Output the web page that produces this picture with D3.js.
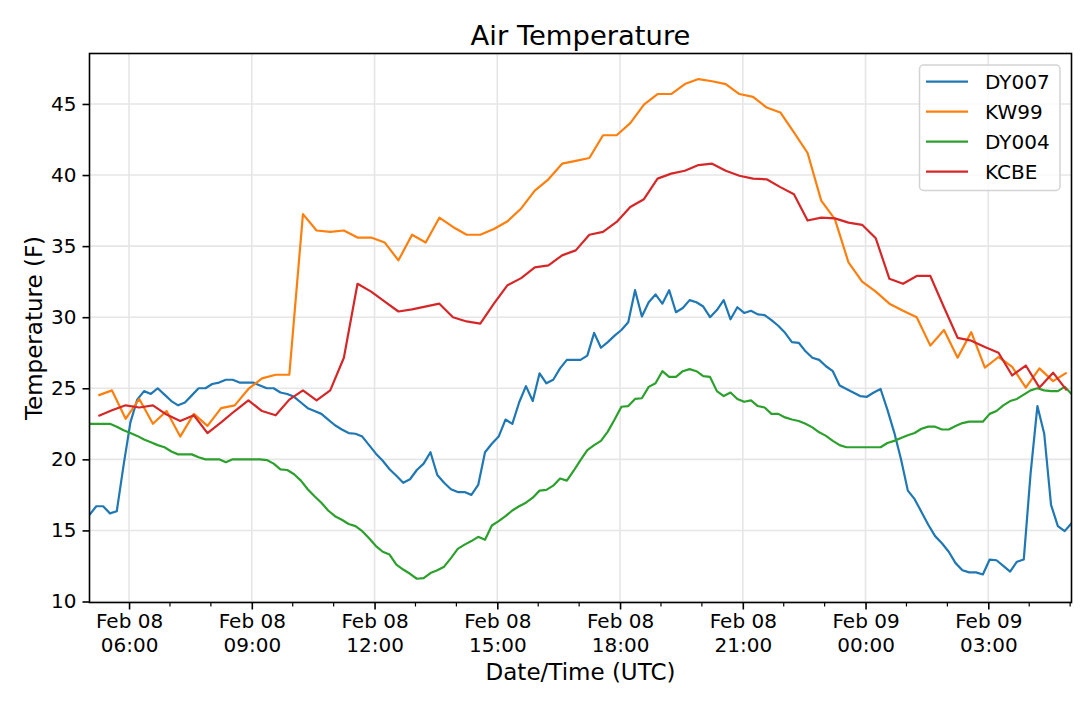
<!DOCTYPE html>
<html>
<head>
	<meta charset="utf-8">
	<title>Air Temperature</title>
	<style>
		body { margin: 0; background: #fff; }
		text { font-family: "DejaVu Sans", sans-serif; fill: #000; }
	</style>
</head>
<body>
<script src="https://d3js.org/d3.v7.min.js"></script>
<script>
//-------------data-------------------
// mesonet stations report every 10 min, airports every 20 min
var dyStart = "2021-02-08T05:02:00Z";
var dyStepMin = 10;
var metarStart = "2021-02-08T05:15:00Z";
var metarStepMin = 20;

var dy007 = [16.1, 16.7, 16.7, 16.2, 16.35, 19.6, 22.6, 24.2, 24.8, 24.6,
	25.0, 24.55, 24.1, 23.8, 24.0, 24.5, 25.0, 25.0, 25.3, 25.4,
	25.6, 25.6, 25.4, 25.4, 25.4, 25.2, 25.0, 25.0, 24.7, 24.6,
	24.4, 24.0, 23.6, 23.4, 23.2, 22.8, 22.4, 22.1, 21.85, 21.8,
	21.6, 21.0, 20.4, 19.9, 19.3, 18.85, 18.35, 18.6, 19.25, 19.7,
	20.5, 18.9, 18.35, 17.9, 17.7, 17.7, 17.5, 18.2, 20.5, 21.1,
	21.6, 22.8, 22.5, 24.0, 25.15, 24.1, 26.05, 25.35, 25.6, 26.4,
	27.0, 27.0, 27.0, 27.3, 28.9, 27.85, 28.25, 28.7, 29.1, 29.65,
	31.9, 30.05, 31.05, 31.6, 30.95, 31.9, 30.35, 30.65, 31.2, 31.05,
	30.75, 30.0, 30.5, 31.2, 29.85, 30.7, 30.3, 30.45, 30.2, 30.15,
	29.8, 29.4, 28.9, 28.25, 28.2, 27.6, 27.15, 27.0, 26.55, 26.2,
	25.2, 24.95, 24.7, 24.45, 24.4, 24.7, 24.95, 23.5, 21.9, 20.0,
	17.8, 17.2, 16.3, 15.4, 14.6, 14.1, 13.5, 12.7, 12.2, 12.05,
	12.05, 11.9, 12.95, 12.9, 12.5, 12.1, 12.8, 12.95, 19.0, 23.75,
	21.8, 16.8, 15.3, 14.95, 15.5];

var dy004 = [22.5, 22.5, 22.5, 22.5, 22.3, 22.05, 21.85, 21.65, 21.4, 21.2,
	21.0, 20.85, 20.55, 20.35, 20.35, 20.35, 20.15, 20.0, 20.0, 20.0,
	19.8, 20.0, 20.0, 20.0, 20.0, 20.0, 19.95, 19.7, 19.3, 19.25,
	18.95, 18.5, 17.9, 17.4, 16.95, 16.4, 16.0, 15.75, 15.45, 15.3,
	14.95, 14.45, 13.9, 13.5, 13.3, 12.6, 12.25, 11.95, 11.6, 11.65,
	12.0, 12.2, 12.45, 13.05, 13.7, 14.0, 14.25, 14.55, 14.35, 15.35,
	15.65, 16.0, 16.4, 16.7, 16.95, 17.3, 17.8, 17.85, 18.15, 18.65,
	18.5, 19.2, 19.95, 20.65, 21.0, 21.3, 21.95, 22.8, 23.7, 23.75,
	24.25, 24.3, 25.1, 25.35, 26.2, 25.8, 25.8, 26.2, 26.35, 26.2,
	25.85, 25.8, 24.8, 24.45, 24.7, 24.25, 24.05, 24.15, 23.75, 23.65,
	23.2, 23.2, 22.95, 22.8, 22.7, 22.5, 22.25, 21.9, 21.65, 21.3,
	21.0, 20.85, 20.85, 20.85, 20.85, 20.85, 20.85, 21.15, 21.3, 21.5,
	21.7, 21.85, 22.15, 22.3, 22.3, 22.1, 22.1, 22.35, 22.55, 22.65,
	22.65, 22.65, 23.2, 23.4, 23.8, 24.1, 24.25, 24.55, 24.85, 25.0,
	24.85, 24.8, 24.8, 25.1, 24.6];

var kw99 = [24.5, 24.85, 22.85, 24.25, 22.5, 23.4, 21.6, 23.2, 22.35, 23.6,
	23.8, 24.95, 25.7, 25.95, 25.95, 37.25, 36.1, 36.0, 36.1, 35.6,
	35.6, 35.25, 34.0, 35.8, 35.25, 37.0, 36.35, 35.8, 35.8, 36.2,
	36.75, 37.65, 38.9, 39.7, 40.8, 41.0, 41.2, 42.8, 42.8, 43.65,
	44.95, 45.7, 45.7, 46.4, 46.75, 46.6, 46.4, 45.7, 45.5, 44.75,
	44.4, 43.0, 41.55, 38.2, 36.9, 33.85, 32.5, 31.8, 30.95, 30.45,
	30.0, 28.0, 29.1, 27.15, 28.95, 26.45, 27.2, 26.5, 25.05, 26.4,
	25.5, 26.1];

var kcbe = [23.05, 23.45, 23.8, 23.65, 23.8, 23.15, 22.7, 23.1, 21.85, 22.6,
	23.4, 24.15, 23.4, 23.1, 24.2, 24.85, 24.15, 24.85, 27.15, 32.35,
	31.8, 31.1, 30.4, 30.55, null, 30.95, 30.0, 29.7, 29.55, 30.95,
	32.25, 32.75, 33.5, 33.65, 34.35, 34.7, 35.8, 36.0, 36.7, 37.75,
	38.3, 39.75, 40.1, 40.3, 40.7, 40.8, 40.3, 39.95, 39.75, 39.7,
	39.15, 38.65, 36.8, 37.0, 36.95, 36.65, 36.5, 35.55, 32.7, 32.35,
	32.9, 32.9, 30.7, 28.55, 28.35, 27.9, 27.5, 25.9, 26.6, 25.05,
	26.1, 24.85];

var seriesNames = ["DY007", "KW99", "DY004", "KCBE"];
var seriesColors = ["#1f77b4", "#ff7f0e", "#2ca02c", "#d62728"];
var yTicks = [10, 15, 20, 25, 30, 35, 40, 45];
var xDomain = ["2021-02-08T05:02:00Z", "2021-02-09T05:02:00Z"];
var yDomain = [9.93, 48.55];

//-------------build points-------------------
function toPoints(values, start, stepMin){
	var t0 = new Date(start).getTime();
	var pts = [];
	values.forEach(function(v, i){
		if(v != null) pts.push({"t": new Date(t0 + i*stepMin*60000), "v": v});
	});
	return pts;
}

var series = [
	toPoints(dy007, dyStart, dyStepMin),
	toPoints(kw99, metarStart, metarStepMin),
	toPoints(dy004, dyStart, dyStepMin),
	toPoints(kcbe, metarStart, metarStepMin)
];

//-------------layout-------------------
var width = 1080;
var height = 701;
var plotL = 89.5, plotR = 1071.5, plotT = 53.5, plotB = 602.5;

var svg = d3.select("body")
	.append("svg")
	.attr("width", width)
	.attr("height", height);

var x = d3.scaleUtc()
	.domain(xDomain.map(function(d){ return new Date(d); }))
	.range([plotL, plotR]);

var y = d3.scaleLinear()
	.domain(yDomain)
	.range([plotB, plotT]);

var majorX = x.ticks(d3.utcHour.every(3));
var minorX = x.ticks(d3.utcHour.every(1)).filter(function(d){ return d.getUTCHours() % 3 != 0; });

//--------------grid-------------------
var grid = svg.append("g");
grid.selectAll("line.gx")
	.data(majorX)
	.enter()
	.append("line")
	.attr("class", "gx")
	.attr("x1", function(d){ return x(d); })
	.attr("x2", function(d){ return x(d); })
	.attr("y1", plotT)
	.attr("y2", plotB)
	.attr("stroke", "#e6e6e6")
	.attr("stroke-width", 1.6);
grid.selectAll("line.gy")
	.data(yTicks)
	.enter()
	.append("line")
	.attr("class", "gy")
	.attr("x1", plotL)
	.attr("x2", plotR)
	.attr("y1", function(d){ return y(d); })
	.attr("y2", function(d){ return y(d); })
	.attr("stroke", "#e6e6e6")
	.attr("stroke-width", 1.6);

//--------------lines-------------------
svg.append("clipPath")
	.attr("id", "plot")
	.append("rect")
	.attr("x", plotL)
	.attr("y", plotT)
	.attr("width", plotR - plotL)
	.attr("height", plotB - plotT);

var line = d3.line()
	.x(function(d){ return x(d.t); })
	.y(function(d){ return y(d.v); });

svg.append("g")
	.attr("clip-path", "url(#plot)")
	.selectAll("path")
	.data(series)
	.enter()
	.append("path")
	.attr("d", line)
	.attr("fill", "none")
	.attr("stroke", function(d, i){ return seriesColors[i]; })
	.attr("stroke-width", 2.2)
	.attr("stroke-linejoin", "round");

//--------------axes-------------------
var fmtDay = d3.utcFormat("%b %d");
var fmtHour = d3.utcFormat("%H:%M");

var xAxis = svg.append("g")
	.attr("transform", "translate(0," + plotB + ")")
	.call(d3.axisBottom(x).tickValues(majorX).tickSize(7).tickPadding(7));
xAxis.select(".domain").remove();
xAxis.selectAll(".tick line").attr("stroke", "#000").attr("stroke-width", 1.6);
xAxis.selectAll(".tick text").each(function(d){
	var t = d3.select(this);
	t.text(null).attr("dy", null).attr("y", null)
		.attr("font-size", 20).attr("font-family", "DejaVu Sans").attr("fill", "#000");
	t.append("tspan").attr("x", 0).attr("y", 25.8).text(fmtDay(d));
	t.append("tspan").attr("x", 0).attr("y", 49.2).text(fmtHour(d));
});

svg.append("g")
	.selectAll("line")
	.data(minorX)
	.enter()
	.append("line")
	.attr("x1", function(d){ return x(d); })
	.attr("x2", function(d){ return x(d); })
	.attr("y1", plotB)
	.attr("y2", plotB + 4)
	.attr("stroke", "#000")
	.attr("stroke-width", 1.2);

var yAxis = svg.append("g")
	.attr("transform", "translate(" + plotL + ",0)")
	.call(d3.axisLeft(y).tickValues(yTicks).tickSize(7).tickPadding(6));
yAxis.select(".domain").remove();
yAxis.selectAll(".tick line").attr("stroke", "#000").attr("stroke-width", 1.6);
yAxis.selectAll(".tick text")
	.attr("font-size", 20)
	.attr("font-family", "DejaVu Sans")
	.attr("fill", "#000");

// frame
svg.append("rect")
	.attr("x", plotL)
	.attr("y", plotT)
	.attr("width", plotR - plotL)
	.attr("height", plotB - plotT)
	.attr("fill", "none")
	.attr("stroke", "#000")
	.attr("stroke-width", 1.6);

//--------------titles-------------------
svg.append("text")
	.attr("x", (plotL + plotR)/2)
	.attr("y", 45)
	.attr("text-anchor", "middle")
	.attr("font-size", 27.4)
	.text("Air Temperature");

svg.append("text")
	.attr("x", (plotL + plotR)/2)
	.attr("y", 680)
	.attr("text-anchor", "middle")
	.attr("font-size", 23)
	.text("Date/Time (UTC)");

svg.append("text")
	.attr("transform", "translate(42," + (plotT + plotB)/2 + ") rotate(-90)")
	.attr("text-anchor", "middle")
	.attr("font-size", 23)
	.text("Temperature (F)");

//--------------legend-------------------
var legend = svg.append("g");
legend.append("rect")
	.attr("x", 919.5)
	.attr("y", 65)
	.attr("width", 140.5)
	.attr("height", 125.5)
	.attr("rx", 4)
	.attr("fill", "#fff")
	.attr("fill-opacity", 0.8)
	.attr("stroke", "#d4d4d4")
	.attr("stroke-width", 1.5);

var items = legend.selectAll("g.item")
	.data(seriesNames)
	.enter()
	.append("g")
	.attr("class", "item")
	.attr("transform", function(d, i){ return "translate(0," + (81.7 + i*30) + ")"; });
items.append("line")
	.attr("x1", 926)
	.attr("x2", 968)
	.attr("stroke", function(d, i){ return seriesColors[i]; })
	.attr("stroke-width", 2.2);
items.append("text")
	.attr("x", 985)
	.attr("y", 7.3)
	.attr("font-size", 20)
	.text(function(d){ return d; });
</script>
</body>
</html>
